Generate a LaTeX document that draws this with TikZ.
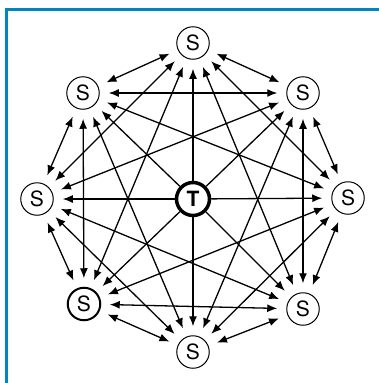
\documentclass[tikz,border=0pt]{standalone}
\usepackage{fontspec}
\setmainfont{TeX Gyre Heros}
\usetikzlibrary{arrows.meta}
\definecolor{frameblue}{RGB}{0,133,190}
\begin{document}
\begin{tikzpicture}[x=1pt,y=-1pt,
  snode/.style={circle, draw, line width=1pt, minimum size=32.5pt, inner sep=0pt, outer sep=9.5pt, font=\fontsize{21}{21}\selectfont},
  tnode/.style={circle, draw, line width=3.5pt, minimum size=33pt, inner sep=0pt, outer sep=1.75pt, font=\bfseries\fontsize{21}{21}\selectfont},
  link/.style={line width=1.3pt, {Latex[length=10pt,width=8pt]}-{Latex[length=10pt,width=8pt]}},
  spoke/.style={line width=1.3pt, -{Latex[length=10pt,width=8pt]}},
  frame/.style={line width=3pt, frameblue}]
\useasboundingbox (0,0) rectangle (379,383);
\draw[frame] (6,383) -- (6,9.5) -- (379,9.5);
\node[tnode] (t) at (193,199) {T};
\node[snode] (n1) at (193,43) {S};
\node[snode] (n2) at (303,93) {S};
\node[snode] (n3) at (348,198) {S};
\node[snode] (n4) at (303,309) {S};
\node[snode] (n5) at (193,352) {S};
\node[snode, line width=2pt] (n6) at (84,304) {S};
\node[snode] (n7) at (37,199) {S};
\node[snode] (n8) at (83,93) {S};
\foreach \k in {1,...,8} \draw[spoke] (t) -- (n\k);
\foreach \a/\b in {1/2,1/3,1/4,1/6,1/7,1/8,2/3,2/4,2/5,2/7,2/8,3/4,3/5,3/6,3/8,4/5,4/6,4/7,5/6,5/7,5/8,6/7,6/8,7/8}
  \draw[link] (n\a) -- (n\b);
\end{tikzpicture}
\end{document}
